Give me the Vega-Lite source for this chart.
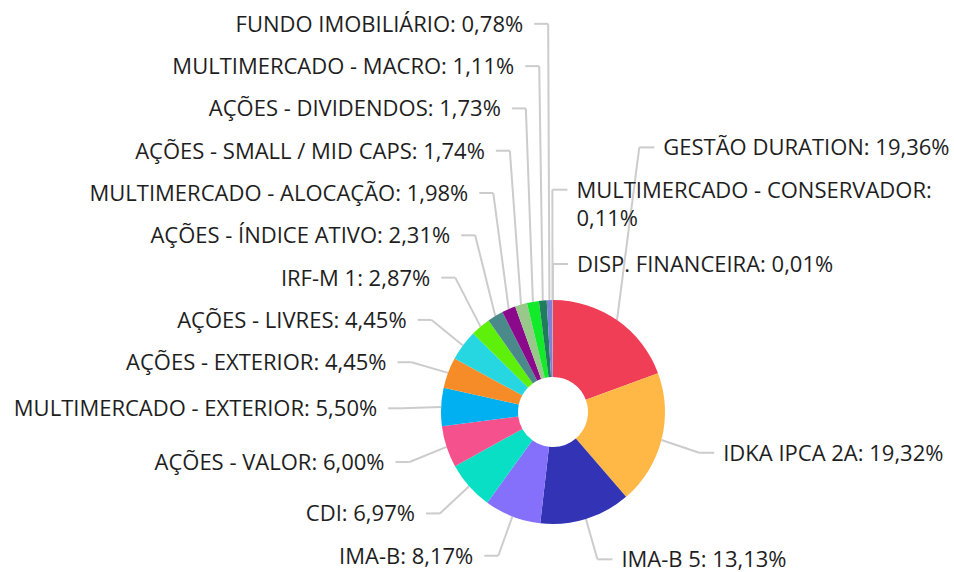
{
  "$schema": "https://vega.github.io/schema/vega-lite/v6.json",
  "width": 954,
  "height": 572,
  "padding": 0,
  "autosize": {"type": "none"},
  "background": "white",
  "config": {"view": {"stroke": null}},
  "data": {
    "values": [
      {"name": "GESTÃO DURATION", "value": 19.36},
      {"name": "IDKA IPCA 2A", "value": 19.32},
      {"name": "IMA-B 5", "value": 13.13},
      {"name": "IMA-B", "value": 8.17},
      {"name": "CDI", "value": 6.97},
      {"name": "AÇÕES - VALOR", "value": 6.00},
      {"name": "MULTIMERCADO - EXTERIOR", "value": 5.50},
      {"name": "AÇÕES - EXTERIOR", "value": 4.45},
      {"name": "AÇÕES - LIVRES", "value": 4.45},
      {"name": "IRF-M 1", "value": 2.87},
      {"name": "AÇÕES - ÍNDICE ATIVO", "value": 2.31},
      {"name": "MULTIMERCADO - ALOCAÇÃO", "value": 1.98},
      {"name": "AÇÕES - SMALL / MID CAPS", "value": 1.74},
      {"name": "AÇÕES - DIVIDENDOS", "value": 1.73},
      {"name": "MULTIMERCADO - MACRO", "value": 1.11},
      {"name": "FUNDO IMOBILIÁRIO", "value": 0.78},
      {"name": "MULTIMERCADO - CONSERVADOR", "value": 0.11},
      {"name": "DISP. FINANCEIRA", "value": 0.01}
    ]
  },
  "transform": [
    {"window": [{"op": "row_number", "as": "idx"}]},
    {"joinaggregate": [{"op": "sum", "field": "value", "as": "total"}]},
    {"window": [{"op": "sum", "field": "value", "as": "cum"}], "sort": [{"field": "idx"}], "frame": [null, 0]},
    {"calculate": "2*PI*(datum.cum - datum.value/2)/datum.total", "as": "mid"},
    {"calculate": "sin(datum.mid) > -0.01 ? 'R' : 'L'", "as": "side"},
    {"calculate": "112*sin(datum.mid)", "as": "ex"},
    {"calculate": "112*cos(datum.mid)", "as": "ey"},
    {"calculate": "151*sin(datum.mid)", "as": "nx"},
    {"calculate": "151*cos(datum.mid)", "as": "ny"},
    {"calculate": "replace(format(datum.value, '.2f'), '.', ',') + '%'", "as": "pct"},
    {"calculate": "datum.side == 'R' && length(datum.name) > 24 ? datum.name + ':|' + datum.pct : datum.name + ': ' + datum.pct", "as": "label"},
    {"calculate": "indexof(datum.label, '|') >= 0 ? 2 : 1", "as": "nl"},
    {"calculate": "datum.nl == 2 ? 60 : 28", "as": "h"},
    {"calculate": "datum.side == 'R' && datum.ny > 0 ? 1000 + datum.value : datum.ny", "as": "key"},
    {"window": [{"op": "row_number", "as": "r"}, {"op": "sum", "field": "h", "as": "H"}], "groupby": ["side"], "sort": [{"field": "key", "order": "ascending"}], "frame": [null, 0]},
    {"calculate": "datum.H + (datum.r - 1)*14.3", "as": "S"},
    {"calculate": "datum.ny - datum.S", "as": "d"},
    {"window": [{"op": "max", "field": "d", "as": "cmax"}], "groupby": ["side"], "sort": [{"field": "key", "order": "ascending"}], "frame": [null, 0]},
    {"calculate": "datum.cmax + datum.S - 3", "as": "ly"},
    {"calculate": "datum.side == 'R' ? datum.nx + 15 : datum.nx - 14", "as": "hx"},
    {"calculate": "datum.side == 'R' ? datum.nx + 24 : datum.nx - 25", "as": "tx"}
  ],
  "layer": [
    {
      "mark": {"type": "rule", "color": "#cccccc", "strokeWidth": 2},
      "encoding": {
        "x": {"field": "ex", "type": "quantitative", "scale": {"domain": [-553, 401], "nice": false, "zero": false}, "axis": null},
        "y": {"field": "ey", "type": "quantitative", "scale": {"domain": [-160, 412], "nice": false, "zero": false}, "axis": null},
        "x2": {"field": "nx"},
        "y2": {"field": "ly"}
      }
    },
    {
      "mark": {"type": "rule", "color": "#cccccc", "strokeWidth": 2},
      "encoding": {
        "x": {"field": "nx", "type": "quantitative", "axis": null},
        "y": {"field": "ly", "type": "quantitative", "axis": null},
        "x2": {"field": "hx"},
        "y2": {"field": "ly"}
      }
    },
    {
      "mark": {"type": "arc", "outerRadius": 112, "innerRadius": 35},
      "encoding": {
        "x": {"datum": 0, "type": "quantitative", "axis": null},
        "y": {"datum": 0, "type": "quantitative", "axis": null},
        "theta": {"field": "value", "type": "quantitative", "stack": true},
        "order": {"field": "idx", "type": "quantitative"},
        "color": {
          "field": "name",
          "type": "nominal",
          "legend": null,
          "scale": {
            "domain": ["GESTÃO DURATION", "IDKA IPCA 2A", "IMA-B 5", "IMA-B", "CDI", "AÇÕES - VALOR", "MULTIMERCADO - EXTERIOR", "AÇÕES - EXTERIOR", "AÇÕES - LIVRES", "IRF-M 1", "AÇÕES - ÍNDICE ATIVO", "MULTIMERCADO - ALOCAÇÃO", "AÇÕES - SMALL / MID CAPS", "AÇÕES - DIVIDENDOS", "MULTIMERCADO - MACRO", "FUNDO IMOBILIÁRIO", "MULTIMERCADO - CONSERVADOR", "DISP. FINANCEIRA"],
            "range": ["#ef3e55", "#ffb845", "#3333b5", "#8470fa", "#09dfc5", "#f5528d", "#00b0f0", "#f58c27", "#26d7e2", "#5ef00a", "#4a8a8a", "#8b0a8b", "#99c98a", "#13ea2a", "#1e7d5a", "#7f7fd5", "#b0b0b0", "#606060"]
          }
        }
      }
    },
    {
      "transform": [{"filter": "datum.side == 'R'"}],
      "mark": {"type": "text", "align": "left", "baseline": "middle", "dy": 1, "font": "Open Sans", "fontSize": 22, "color": "#1e1e1e", "lineBreak": "|", "lineHeight": 28},
      "encoding": {
        "x": {"field": "tx", "type": "quantitative", "axis": null},
        "y": {"field": "ly", "type": "quantitative", "axis": null},
        "text": {"field": "label", "type": "nominal"}
      }
    },
    {
      "transform": [{"filter": "datum.side == 'L'"}],
      "mark": {"type": "text", "align": "right", "baseline": "middle", "dy": 1, "font": "Open Sans", "fontSize": 22, "color": "#1e1e1e", "lineBreak": "|", "lineHeight": 28},
      "encoding": {
        "x": {"field": "tx", "type": "quantitative", "axis": null},
        "y": {"field": "ly", "type": "quantitative", "axis": null},
        "text": {"field": "label", "type": "nominal"}
      }
    }
  ]
}
